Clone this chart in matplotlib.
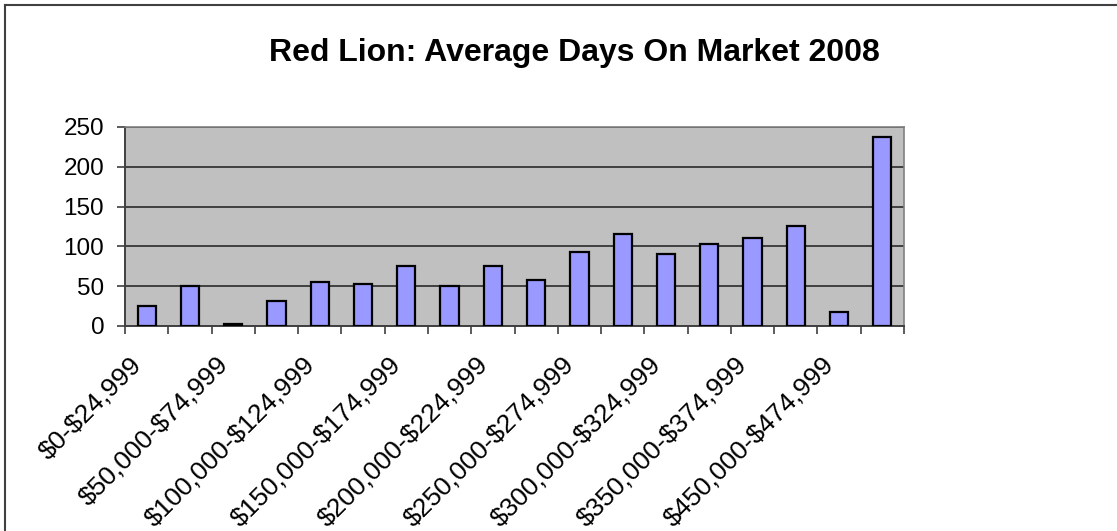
import numpy as np
import matplotlib.pyplot as plt
from matplotlib.lines import Line2D
from matplotlib.transforms import ScaledTranslation

plt.rcParams['font.family'] = ['Liberation Sans', 'DejaVu Sans']
plt.rcParams['text.parse_math'] = False

# Price ranges and average days on market
rangos = ['$0-$24,999', '$25,000-$49,999', '$50,000-$74,999', '$75,000-$99,999',
          '$100,000-$124,999', '$125,000-$149,999', '$150,000-$174,999', '$175,000-$199,999',
          '$200,000-$224,999', '$225,000-$249,999', '$250,000-$274,999', '$275,000-$299,999',
          '$300,000-$324,999', '$325,000-$349,999', '$350,000-$374,999', '$375,000-$449,999',
          '$450,000-$474,999', '$475,000+']
dias = [25, 50, 3, 32, 55, 53, 75, 50, 75, 58, 93, 116, 91, 103, 111, 126, 18, 237]

fig = plt.figure(figsize=(11.17, 5.31), dpi=100)
ax = fig.add_axes([125/1117, 1 - 326/531, (904 - 125)/1117, (326 - 127)/531])

x = np.arange(len(rangos))
ax.bar(x, dias, width=0.42, color='#9999FF', edgecolor='black', linewidth=1.6, zorder=3)

ax.set_facecolor('#C0C0C0')
ax.set_xlim(-0.5, len(rangos) - 0.5)
ax.set_ylim(0, 250)
ax.set_yticks(range(0, 251, 50))
ax.grid(axis='y', color='#404040', linewidth=1.4, zorder=1)

# etiquetas solo en categorias pares, marcas entre categorias
ax.set_xticks(x[::2])
ax.set_xticklabels(rangos[::2], rotation=45, ha='right', va='center',
                   rotation_mode='anchor', fontsize=19)
ax.tick_params(axis='x', length=0, pad=25)
desplazamiento = ScaledTranslation(-9/100, 0, fig.dpi_scale_trans)
for etiqueta in ax.get_xticklabels():
    etiqueta.set_transform(etiqueta.get_transform() + desplazamiento)
ax.set_xticks(np.arange(-0.5, len(rangos)), minor=True)
ax.tick_params(axis='x', which='minor', length=5.5, width=1.2, color='#404040', direction='out')
ax.tick_params(axis='y', labelsize=17.5, length=5.5, width=1.2, color='#404040', pad=9.5)

for lado in ['left', 'bottom']:
    ax.spines[lado].set_color('#404040')
    ax.spines[lado].set_linewidth(1.4)
for lado in ['top', 'right']:
    ax.spines[lado].set_color('#808080')
    ax.spines[lado].set_linewidth(1.2)

fig.text(574/1117, 1 - 53/531, 'Red Lion: Average Days On Market 2008',
         ha='center', va='center', fontsize=23, fontweight='bold')

# marco exterior del grafico
fig.add_artist(Line2D([4.5/1117, 4.5/1117], [0, 1 - 5/531], color='#404040', linewidth=1.5,
                      transform=fig.transFigure))
fig.add_artist(Line2D([4.5/1117, 1], [1 - 5/531, 1 - 5/531], color='#404040', linewidth=1.5,
                      transform=fig.transFigure))

fig.savefig('out.png', dpi=100, facecolor='white')
